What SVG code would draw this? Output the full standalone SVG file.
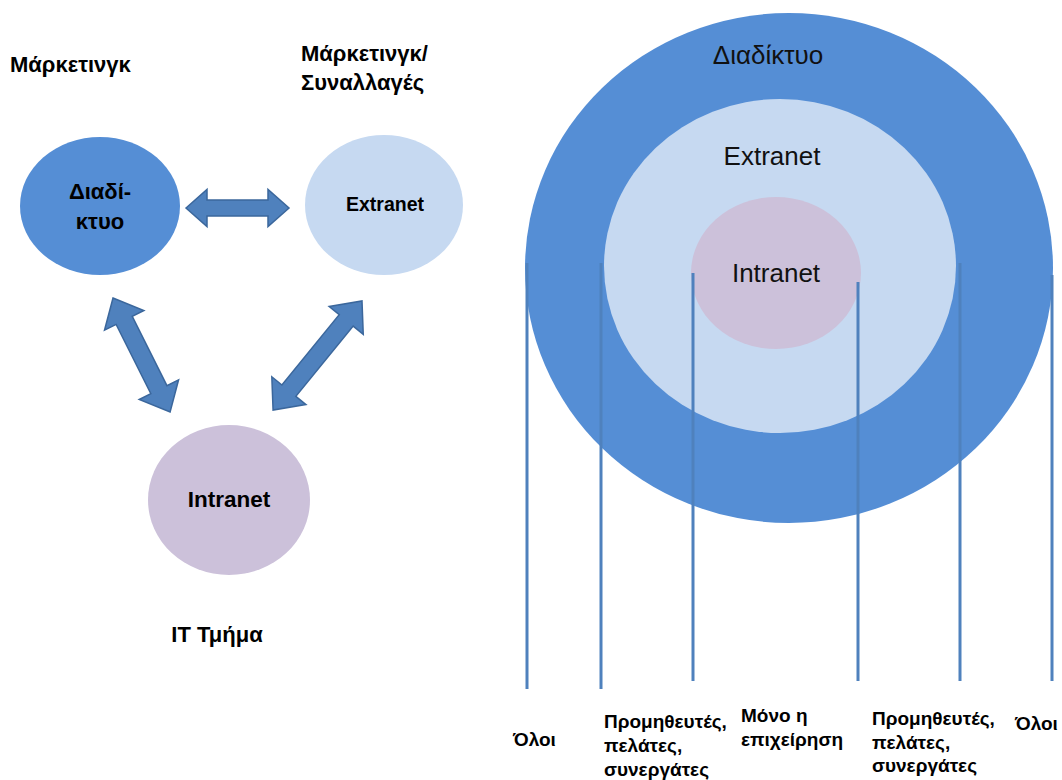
<svg xmlns="http://www.w3.org/2000/svg" width="1062" height="780" viewBox="0 0 1062 780">
<defs>
<style>
.blue{fill:#558ED5}
.light{fill:#C6D9F1}
.purple{fill:#CCC1DA}
.arrow{fill:#4F81BD;stroke:#3B679C;stroke-width:1.5;stroke-linejoin:miter}
.vline{stroke:#4F81BD;stroke-width:3;fill:none}
.lbl{font-family:"Liberation Sans",Arial,sans-serif;font-weight:bold;fill:#000}
.reg{font-family:"Liberation Sans",Arial,sans-serif;fill:#111}
.bot{font-family:"Liberation Sans",Arial,sans-serif;font-weight:bold;font-size:19px;fill:#000}
</style>
</defs>
<rect width="1062" height="780" fill="#fff"/>

<!-- Left side -->
<text class="lbl" x="10" y="72" font-size="22">Μάρκετινγκ</text>
<text class="lbl" x="301" y="61" font-size="22">Μάρκετινγκ/</text>
<text class="lbl" x="301" y="90" font-size="22">Συναλλαγές</text>

<g id="node-internet">
<ellipse class="blue" cx="100" cy="206" rx="80" ry="69"/>
<text class="lbl" x="100" y="199" font-size="22" text-anchor="middle">Διαδί-</text>
<text class="lbl" x="100" y="229" font-size="22" text-anchor="middle">κτυο</text>
</g>
<g id="node-extranet">
<ellipse class="light" cx="384" cy="205" rx="79" ry="70"/>
<text class="lbl" x="385" y="211" font-size="19.5" text-anchor="middle">Extranet</text>
</g>
<g id="node-intranet">
<ellipse class="purple" cx="229" cy="500" rx="81" ry="75"/>
<text class="lbl" x="229" y="507" font-size="22.5" text-anchor="middle">Intranet</text>
</g>
<text class="lbl" x="217" y="642" font-size="22" text-anchor="middle">IT Τμήμα</text>

<g id="connectors">
<polygon class="arrow" transform="translate(186,208)" points="0,0 21,-18.5 21,-8 82,-8 82,-18.5 103,0 82,18.5 82,8 21,8 21,18.5"/>
<polygon class="arrow" transform="translate(113,298) rotate(63.4)" points="0,0 25,-22 25,-9 102.5,-9 102.5,-22 127.5,0 102.5,22 102.5,9 25,9 25,22"/>
<polygon class="arrow" transform="translate(362,301) rotate(129.2)" points="0,0 25,-22 25,-9 115.7,-9 115.7,-22 140.7,0 115.7,22 115.7,9 25,9 25,22"/>
</g>

<!-- Right side -->
<g id="ring-internet">
<ellipse class="blue" cx="789" cy="268" rx="264" ry="255"/>
<text class="reg" x="768" y="64" font-size="26" text-anchor="middle">Διαδίκτυο</text>
</g>
<g id="ring-extranet">
<ellipse class="light" cx="780" cy="266" rx="176" ry="167"/>
<text class="reg" x="772" y="165" font-size="26" text-anchor="middle">Extranet</text>
</g>
<g id="ring-intranet">
<ellipse class="purple" cx="776" cy="273" rx="85" ry="76"/>
<text class="reg" x="776" y="282" font-size="26" text-anchor="middle">Intranet</text>
</g>

<g id="lines">
<line class="vline" x1="527" y1="263" x2="527" y2="689"/>
<line class="vline" x1="601" y1="263" x2="601" y2="689"/>
<line class="vline" x1="693" y1="273" x2="693" y2="681"/>
<line class="vline" x1="858" y1="282" x2="858" y2="681"/>
<line class="vline" x1="960" y1="263" x2="960" y2="681"/>
<line class="vline" x1="1052" y1="275" x2="1052" y2="681"/>
</g>

<g id="labels">
<text class="bot" x="513" y="746">Όλοι</text>
<text class="bot" x="604"><tspan x="604" y="728">Προμηθευτές,</tspan><tspan x="604" y="752">πελάτες,</tspan><tspan x="604" y="776">συνεργάτες</tspan></text>
<text class="bot" x="741"><tspan x="741" y="722">Μόνο η</tspan><tspan x="741" y="746">επιχείρηση</tspan></text>
<text class="bot" x="872"><tspan x="872" y="725">Προμηθευτές,</tspan><tspan x="872" y="749">πελάτες,</tspan><tspan x="872" y="772">συνεργάτες</tspan></text>
<text class="bot" x="1015" y="730">Όλοι</text>
</g>
</svg>
